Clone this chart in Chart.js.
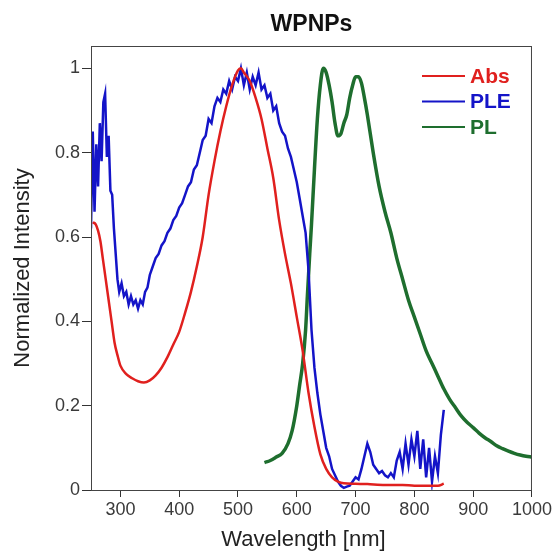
<!DOCTYPE html>
<html>
<head>
<meta charset="utf-8">
<script src="https://cdn.jsdelivr.net/npm/chart.js@4.4.1/dist/chart.umd.min.js"></script>
<style>
  html, body { margin: 0; padding: 0; background: #fff; }
  #wrap { width: 554px; height: 555px; }
</style>
</head>
<body>
<div id="wrap"><canvas id="chart" width="554" height="555"></canvas></div>
<script>
const chartTitle = "WPNPs";
const xTitle = "Wavelength [nm]";
const xTicks = [300, 400, 500, 600, 700, 800, 900, 1000];
const yTicks = [0, 0.2, 0.4, 0.6, 0.8, 1];

// Abs
const absWl = [253, 258, 262, 266, 270, 275, 280, 285, 290, 295, 300, 310, 320, 330, 340, 350, 360, 370, 380, 390, 400, 410, 420, 430, 440, 450, 460, 470, 480, 490, 500, 505, 510, 520, 530, 540, 550, 560, 570, 580, 590, 600, 610, 620, 630, 640, 650, 660, 670, 680, 700, 720, 750, 780, 800, 820, 840, 850];
const absVal = [0.635, 0.63, 0.615, 0.59, 0.55, 0.50, 0.45, 0.40, 0.35, 0.32, 0.295, 0.275, 0.265, 0.258, 0.255, 0.26, 0.272, 0.29, 0.315, 0.345, 0.375, 0.42, 0.47, 0.53, 0.60, 0.70, 0.78, 0.85, 0.91, 0.96, 0.995, 1.0, 0.99, 0.97, 0.93, 0.88, 0.81, 0.74, 0.64, 0.56, 0.49, 0.41, 0.33, 0.23, 0.15, 0.085, 0.05, 0.03, 0.02, 0.016, 0.015, 0.014, 0.012, 0.012, 0.01, 0.01, 0.01, 0.015];

// PLE
const pleWl = [250, 253, 256, 259, 262, 265, 268, 271, 274, 277, 280, 283, 286, 289, 292, 295, 298, 302, 306, 310, 314, 318, 322, 326, 330, 334, 338, 342, 346, 350, 355, 360, 365, 370, 375, 380, 385, 390, 395, 400, 405, 410, 415, 420, 425, 430, 435, 440, 445, 450, 455, 460, 465, 470, 475, 480, 485, 490, 495, 500, 505, 510, 515, 520, 525, 530, 535, 540, 545, 550, 555, 560, 565, 570, 575, 580, 585, 590, 595, 600, 605, 610, 615, 620, 625, 630, 635, 640, 645, 650, 655, 660, 665, 670, 675, 680, 685, 690, 695, 700, 705, 710, 715, 720, 725, 730, 735, 740, 745, 750, 755, 760, 765, 770, 775, 780, 785, 790, 795, 800, 805, 810, 815, 820, 825, 830, 835, 840, 845, 850];
const pleVal = [0.62, 0.85, 0.66, 0.82, 0.72, 0.87, 0.78, 0.92, 0.94, 0.79, 0.84, 0.71, 0.70, 0.62, 0.56, 0.50, 0.47, 0.49, 0.46, 0.47, 0.44, 0.46, 0.44, 0.45, 0.43, 0.45, 0.44, 0.47, 0.48, 0.51, 0.53, 0.55, 0.56, 0.58, 0.59, 0.61, 0.62, 0.64, 0.65, 0.67, 0.68, 0.70, 0.72, 0.73, 0.76, 0.77, 0.80, 0.83, 0.84, 0.88, 0.87, 0.91, 0.93, 0.92, 0.95, 0.94, 0.97, 0.95, 0.98, 0.97, 1.0, 0.96, 0.99, 0.95, 0.98, 0.96, 0.99, 0.95, 0.96, 0.93, 0.94, 0.90, 0.91, 0.87, 0.85, 0.84, 0.81, 0.79, 0.76, 0.73, 0.69, 0.65, 0.61, 0.52, 0.38, 0.29, 0.23, 0.18, 0.14, 0.10, 0.08, 0.05, 0.035, 0.02, 0.01, 0.005, 0.008, 0.01, 0.02, 0.03, 0.025, 0.05, 0.08, 0.11, 0.09, 0.06, 0.05, 0.04, 0.045, 0.035, 0.03, 0.04, 0.03, 0.07, 0.09, 0.05, 0.11, 0.06, 0.12, 0.08, 0.14, 0.05, 0.12, 0.03, 0.10, 0.02, 0.08, 0.04, 0.13, 0.19];

// PL
const plWl = [545, 555, 565, 575, 585, 592, 600, 605, 610, 615, 618, 622, 625, 630, 635, 640, 645, 650, 655, 660, 665, 670, 675, 680, 685, 690, 695, 700, 705, 710, 715, 720, 730, 740, 750, 760, 770, 780, 790, 800, 810, 820, 830, 840, 850, 860, 870, 880, 890, 900, 910, 920, 930, 940, 950, 960, 970, 980, 990, 1000];
const plVal = [0.065, 0.07, 0.078, 0.087, 0.11, 0.14, 0.20, 0.25, 0.30, 0.38, 0.46, 0.56, 0.63, 0.76, 0.88, 0.96, 1.0, 0.99, 0.96, 0.92, 0.87, 0.84, 0.845, 0.87, 0.89, 0.93, 0.96, 0.98, 0.98, 0.965, 0.93, 0.89, 0.80, 0.72, 0.66, 0.61, 0.55, 0.50, 0.45, 0.41, 0.37, 0.33, 0.30, 0.27, 0.24, 0.215, 0.195, 0.175, 0.16, 0.148, 0.135, 0.124, 0.115, 0.105, 0.098, 0.092, 0.087, 0.083, 0.08, 0.078];

const FONT = "'Liberation Sans', Arial, sans-serif";

function pts(xs, ys) {
  return xs.map((x, i) => ({ x: x, y: ys[i] }));
}

// frame around the plot area
const framePlugin = {
  id: "frame",
  afterDraw(chart) {
    const { ctx, chartArea: a } = chart;
    ctx.save();
    ctx.strokeStyle = "#444";
    ctx.lineWidth = 1;
    ctx.strokeRect(a.left + 0.5, a.top + 0.5, a.right - a.left - 1, a.bottom - a.top);
    ctx.restore();
  }
};

// title, x axis title and legend
const textPlugin = {
  id: "texts",
  afterDraw(chart) {
    const { ctx, chartArea: a } = chart;
    const mid = (a.left + a.right) / 2;
    ctx.save();
    ctx.fillStyle = "#111";
    ctx.font = "bold 23px " + FONT;
    ctx.textAlign = "center";
    ctx.textBaseline = "middle";
    ctx.fillText(chartTitle, mid, 25);

    ctx.fillStyle = "#222";
    ctx.font = "22px " + FONT;
    ctx.fillText(xTitle, mid - 8, 540);

    ctx.font = "bold 21px " + FONT;
    ctx.textAlign = "left";
    chart.data.datasets.forEach((ds, i) => {
      const y = a.top + 30 + i * 25.5;
      ctx.strokeStyle = ds.borderColor;
      ctx.lineWidth = 2;
      ctx.beginPath();
      ctx.moveTo(a.left + 331, y);
      ctx.lineTo(a.left + 374, y);
      ctx.stroke();
      ctx.fillStyle = ds.borderColor;
      ctx.fillText(ds.label, a.left + 379, y + 1);
    });
    ctx.restore();
  }
};

const ctx = document.getElementById("chart").getContext("2d");
new Chart(ctx, {
  type: "line",
  data: {
    datasets: [
      {
        label: "Abs",
        data: pts(absWl, absVal),
        borderColor: "#e0201e",
        borderWidth: 2.5,
        pointRadius: 0,
        cubicInterpolationMode: "monotone",
        fill: false
      },
      {
        label: "PLE",
        data: pts(pleWl, pleVal),
        borderColor: "#1414c8",
        borderWidth: 2.5,
        pointRadius: 0,
        fill: false
      },
      {
        label: "PL",
        data: pts(plWl, plVal),
        borderColor: "#1e6e2e",
        borderWidth: 3.5,
        pointRadius: 0,
        cubicInterpolationMode: "monotone",
        fill: false
      }
    ]
  },
  options: {
    responsive: false,
    animation: false,
    devicePixelRatio: 1,
    layout: { padding: { top: 46, right: 20, left: 0, bottom: 0 } },
    plugins: {
      legend: { display: false },
      title: { display: false },
      tooltip: { enabled: false }
    },
    scales: {
      x: {
        type: "linear",
        min: 250,
        max: 1000,
        afterFit(scale) { scale.height = 65; },
        afterBuildTicks(scale) { scale.ticks = xTicks.map(v => ({ value: v })); },
        grid: { drawOnChartArea: false, drawTicks: true, tickLength: 7, tickColor: "#333" },
        border: { display: true, color: "#333", width: 1 },
        ticks: {
          color: "#3a3a3a",
          font: { family: FONT, size: 18 },
          padding: 2,
          maxRotation: 0,
          callback: v => String(v)
        },
        title: { display: false }
      },
      y: {
        type: "linear",
        min: 0,
        max: 1.053,
        afterFit(scale) { scale.width = 91; },
        afterBuildTicks(scale) { scale.ticks = yTicks.map(v => ({ value: v })); },
        grid: { drawOnChartArea: false, drawTicks: true, tickLength: 9, tickColor: "#333" },
        border: { display: true, color: "#333", width: 1 },
        ticks: {
          color: "#3a3a3a",
          font: { family: FONT, size: 18 },
          padding: 2,
          callback: v => String(v)
        },
        title: {
          display: true,
          text: "Normalized Intensity",
          color: "#222",
          font: { family: FONT, size: 22 },
          padding: { top: 10, bottom: 0 }
        }
      }
    }
  },
  plugins: [framePlugin, textPlugin]
});
</script>
</body>
</html>
